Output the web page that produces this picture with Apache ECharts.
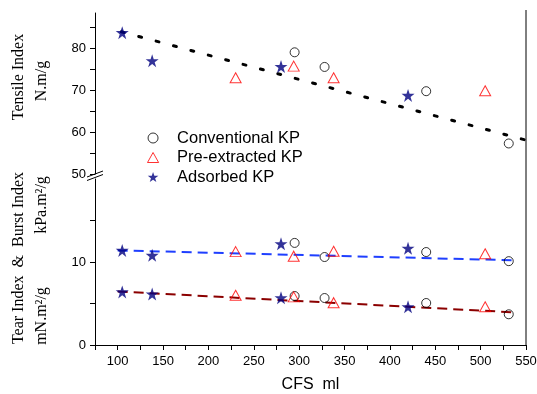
<!DOCTYPE html>
<html>
<head>
<meta charset="utf-8">
<script src="https://cdn.jsdelivr.net/npm/echarts@6/dist/echarts.min.js"></script>
<style>html,body{margin:0;padding:0;background:#fff;}#c{width:537px;height:394px;}</style>
</head>
<body>
<div id="c"></div>
<script>
// CFS (ml) values per pulp type
const cfsConv = [295, 328, 440, 531];
const cfsPre  = [230, 294, 338, 505];
const cfsAds  = [105, 138, 280, 420];
// Tensile index (N.m/g)
const tensileConv = [79.1, 75.6, 69.8, 57.3];
const tensilePre  = [73.0, 75.8, 73.0, 69.9];
const tensileAds  = [83.8, 77.1, 75.7, 68.8];
// Burst index (kPa.m2/g)
const burstConv = [12.3, 10.6, 11.2, 10.1];
const burstPre  = [11.25, 10.7, 11.3, 11.0];
const burstAds  = [11.4, 10.8, 12.2, 11.65];
// Tear index (mN.m2/g)
const tearConv = [5.9, 5.66, 5.06, 3.7];
const tearPre  = [6.0, 5.8, 5.1, 4.6];
const tearAds  = [6.4, 6.15, 5.7, 4.6];
// Fit lines (endpoints)
const fitTensileX = [104, 550], fitTensileY = [84.0, 58.1];
const fitBurstX = [100, 538],   fitBurstY = [11.4, 10.2];
const fitTearX = [100, 534],    fitTearY = [6.45, 3.95];
// Axis ticks / labels
const xTicks = [75,100,125,150,175,200,225,250,275,300,325,350,375,400,425,450,475,500,525,550];
const xLabels = [100,150,200,250,300,350,400,450,500,550];
const yTopTicks = [50,55,60,65,70,75,80,85];
const yTopLabels = [50,60,70,80];
const yBotTicks = [0,5,10,15];
const yBotLabels = [0,10];
const legendNames = ['Conventional KP','Pre-extracted KP','Adsorbed KP'];

const zip = (a,b) => a.map((v,i)=>[v,b[i]]);
const STAR = 'path://M50,0 L61.8,35.1 L98.9,35.1 L68.9,57.1 L80.3,92.1 L50,70.4 L19.7,92.1 L31.1,57.1 L1.1,35.1 L38.2,35.1 Z';
const TRI = 'path://M50,0 L100,90 L0,90 Z';
const sans = 'Liberation Sans';
const serif = 'Liberation Serif';

const circleStyle = {symbol:'circle', symbolSize:9, itemStyle:{color:'rgba(255,255,255,0)', borderColor:'#000', borderWidth:1}};
const triStyle = {symbol:'triangle', symbolSize:[11,10], itemStyle:{color:'rgba(255,255,255,0)', borderColor:'#ff0000', borderWidth:1}};
const starStyle = {symbol:STAR, symbolSize:13, itemStyle:{color:'#000080', borderWidth:0}};

function sc(name, xi, x, y, st){
  return Object.assign({name, type:'scatter', xAxisIndex:xi, yAxisIndex:xi, data:zip(x,y), z:5}, JSON.parse(JSON.stringify(st)));
}
function fit(xi, x, y, color, dash, width, cap){
  return {type:'line', xAxisIndex:xi, yAxisIndex:xi, data:zip(x,y), symbol:'none', silent:true, z:2,
    lineStyle:{color, width, type:dash, cap:cap||'butt'}};
}
function xAx(gi, show){
  return {type:'value', gridIndex:gi, min:75, max:550, interval:25, show,
    axisLine:{show:true, onZero:false, lineStyle:{color:'#000', width:1}},
    axisTick:{show:true, inside:false, length:5, customValues:xTicks, lineStyle:{color:'#000'}},
    axisLabel:{show:true, customValues:xLabels, margin:10, fontSize:13, fontFamily:sans, color:'#000'},
    splitLine:{show:false},
    name: gi===1 ? 'CFS  ml' : '', nameLocation:'middle', nameGap:32,
    nameTextStyle:{fontSize:16, fontFamily:sans, color:'#000'}};
}
function yAx(gi, min, max, ticks, labels){
  return {type:'value', gridIndex:gi, min, max, interval:5,
    axisLine:{show:true, onZero:false, lineStyle:{color:'#000', width:1}},
    axisTick:{show:true, inside:false, length:5, customValues:ticks, lineStyle:{color:'#000'}},
    axisLabel:{show:true, customValues:labels, margin:9, fontSize:13, fontFamily:sans, color:'#000'},
    splitLine:{show:false}};
}

const legendIcons = {
  'Conventional KP': {icon:'circle', itemStyle:{color:'rgba(255,255,255,0)', borderColor:'#000', borderWidth:1}},
  'Pre-extracted KP': {icon:TRI, itemStyle:{color:'rgba(255,255,255,0)', borderColor:'#ff0000', borderWidth:1}},
  'Adsorbed KP': {icon:STAR, itemStyle:{color:'#000080', borderWidth:0}}
};

const chart = echarts.init(document.getElementById('c'), null, {renderer:'canvas'});
chart.setOption({
  animation:false,
  backgroundColor:'#fff',
  grid:[
    {left:95, right:11, top:13, height:161, outerBoundsMode:'none', containLabel:false},
    {left:95, right:11, top:179, height:166, outerBoundsMode:'none', containLabel:false}
  ],
  xAxis:[xAx(0,false), xAx(1,true)],
  yAxis:[yAx(0,50,88.5,yTopTicks,yTopLabels), yAx(1,0,20,yBotTicks,yBotLabels)],
  legend:{
    data:legendNames.map(n => Object.assign({name:n}, legendIcons[n])),
    orient:'vertical', left:147, top:129.5, padding:0, itemWidth:38, itemHeight:10, itemGap:2.5,
    textStyle:{fontSize:16.5, fontFamily:sans, color:'#000'}, selectedMode:false
  },
  series:[
    fit(0, fitTensileX, fitTensileY, '#000', [3,15], 3, 'round'),
    fit(1, fitBurstX, fitBurstY, '#1f3fff', [10,6], 2),
    fit(1, fitTearX, fitTearY, '#8b0000', [10,6], 2),
    sc('Conventional KP', 0, cfsConv, tensileConv, circleStyle),
    sc('Pre-extracted KP', 0, cfsPre, tensilePre, triStyle),
    sc('Adsorbed KP', 0, cfsAds, tensileAds, starStyle),
    sc('Conventional KP', 1, cfsConv, burstConv, circleStyle),
    sc('Pre-extracted KP', 1, cfsPre, burstPre, triStyle),
    sc('Adsorbed KP', 1, cfsAds, burstAds, starStyle),
    sc('Conventional KP', 1, cfsConv, tearConv, circleStyle),
    sc('Pre-extracted KP', 1, cfsPre, tearPre, triStyle),
    sc('Adsorbed KP', 1, cfsAds, tearAds, starStyle)
  ],
  graphic:[
    {type:'line', shape:{x1:526, y1:10, x2:526, y2:345}, style:{stroke:'#000', lineWidth:1}, z:10},
    {type:'line', shape:{x1:87, y1:177, x2:103, y2:171}, style:{stroke:'#000', lineWidth:1}, z:10},
    {type:'line', shape:{x1:87, y1:180.5, x2:103, y2:174.5}, style:{stroke:'#000', lineWidth:1}, z:10},
    {type:'text', x:19, y:77, rotation:Math.PI/2, style:{text:'Tensile Index', fontSize:16, fontFamily:serif, fill:'#000', align:'center', verticalAlign:'middle'}},
    {type:'text', x:42, y:81, rotation:Math.PI/2, style:{text:'N.m/g', fontSize:16, fontFamily:serif, fill:'#000', align:'center', verticalAlign:'middle'}},
    {type:'text', x:19, y:258, rotation:Math.PI/2, style:{text:'Tear Index  &  Burst Index', fontSize:16, fontFamily:serif, fill:'#000', align:'center', verticalAlign:'middle'}},
    {type:'text', x:42, y:205, rotation:Math.PI/2, style:{text:'kPa.m\u00B2/g', fontSize:16, fontFamily:serif, fill:'#000', align:'center', verticalAlign:'middle'}},
    {type:'text', x:42, y:316, rotation:Math.PI/2, style:{text:'mN.m\u00B2/g', fontSize:16, fontFamily:serif, fill:'#000', align:'center', verticalAlign:'middle'}}
  ]
});
</script>
</body>
</html>
